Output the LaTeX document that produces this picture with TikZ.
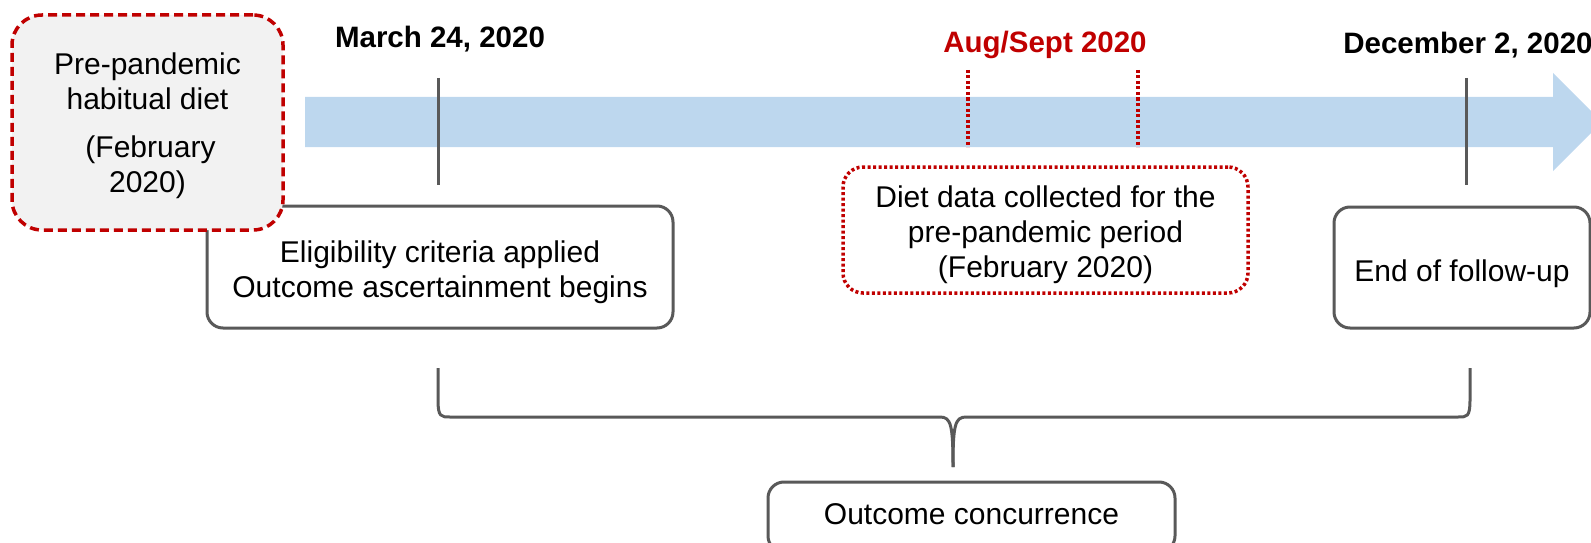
\documentclass[tikz,border=0pt]{standalone}
\usepackage{fontspec}
\setmainfont{Liberation Sans}
\definecolor{dred}{HTML}{C00000}
\definecolor{lgray}{HTML}{595959}
\definecolor{lblue}{HTML}{BDD7EE}
\definecolor{boxfill}{HTML}{F2F2F2}
\newcommand{\lift}[1]{\rule{0pt}{#1}}
\newcommand{\sink}[1]{\rule[-#1]{0pt}{1pt}}
\tikzset{
  txt/.style={font=\fontsize{30}{35}\selectfont, align=center, inner sep=0pt},
  datelab/.style={font=\fontsize{29.5}{35}\selectfont\bfseries, inner sep=0pt},
  graybox/.style={txt, draw=lgray, line width=3pt, rounded corners=16pt, fill=white},
  tickline/.style={draw=lgray, line width=3pt},
  redtick/.style={draw=dred, line width=3.5pt, dash pattern=on 3pt off 2.5pt},
  brace/.style={draw=lgray, line width=3pt},
}
\begin{document}
\begin{tikzpicture}[x=1pt,y=-1pt]
\useasboundingbox (0,0) rectangle (1591,543);
\clip (0,0) rectangle (1591,543);
% timeline arrow
\fill[lblue] (305,97) -- (1553,97) -- (1553,73) -- (1602,122) -- (1553,171) -- (1553,147) -- (305,147) -- cycle;
% boxes
\node[graybox, minimum width=466pt, minimum height=122pt] (elig) at (440,267)
  {\lift{32pt}Eligibility criteria applied\\Outcome ascertainment begins};
\node[txt, draw=dred, fill=boxfill, line width=3.5pt, dash pattern=on 9pt off 5pt,
  rounded corners=30pt, minimum width=271pt, minimum height=215pt] (pre) at (147.5,122.5)
  {\lift{28pt}Pre-pandemic\\habitual diet\\[13pt]\hspace{6pt}(February\\2020)};
\node[txt, draw=dred, line width=3.5pt, dash pattern=on 3pt off 2.5pt,
  rounded corners=20pt, minimum width=405pt, minimum height=126pt] (diet) at (1045.5,230)
  {\lift{32pt}Diet data collected for the\\pre-pandemic period\\(February 2020)};
\node[graybox, minimum width=256pt, minimum height=121pt] (endfu) at (1462,267.5)
  {\lift{34pt}End of follow-up};
\node[graybox, minimum width=407pt, minimum height=70pt] (outc) at (971.5,517)
  {Outcome concurrence\sink{6pt}};
% date labels
\node[datelab] (m24lab) at (440,39) {March 24, 2020};
\node[datelab, text=dred] (auglab) at (1045,45) {Aug/Sept 2020};
\node[datelab] (declab) at (1468,45) {December 2, 2020};
% tick coordinates
\coordinate (m24t) at (438,78);
\coordinate (m24b) at (438,185);
\coordinate (dect) at (1466,78);
\coordinate (decb) at (1466,185);
\coordinate (a1t) at (968,70);
\coordinate (a1b) at (968,147);
\coordinate (a2t) at (1138,70);
\coordinate (a2b) at (1138,147);
\draw[tickline] (m24t) -- (m24b);
\draw[tickline] (dect) -- (decb);
\draw[redtick] (a1t) -- (a1b);
\draw[redtick] (a2t) -- (a2b);
% brace
\coordinate (bl) at (438,368);
\coordinate (br) at (1470,368);
\coordinate (btip) at (953,467);
\draw[brace] (bl) -- (438,400) .. controls (438,417) and (441,417) .. (450,417)
  -- (940,417) .. controls (951,417) and (953,425) .. (btip);
\draw[brace] (btip) .. controls (953,425) and (955,417) .. (966,417)
  -- (1458,417) .. controls (1467,417) and (1470,417) .. (1470,400) -- (br);
\end{tikzpicture}
\end{document}
